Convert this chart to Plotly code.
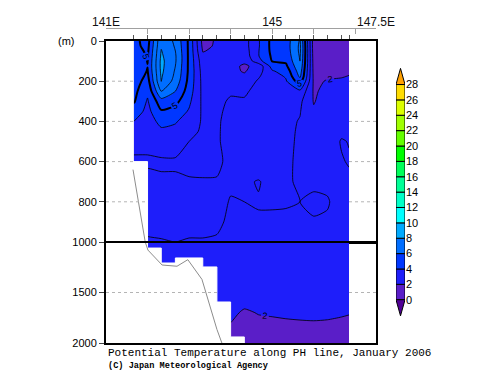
import plotly.graph_objects as go

# ---------------- data ----------------
lons = [141.67, 142.0, 142.33, 142.67, 143.0, 143.33, 143.67, 144.0, 144.33,
        144.67, 145.0, 145.33, 145.67, 146.0, 146.33, 146.67, 146.85]
depths = [0, 25, 50, 75, 100, 125, 150, 175, 200, 250, 300, 350, 400, 450, 500,
          600, 700, 800, 900, 1000, 1100, 1200, 1300, 1400, 1500, 1600, 1700,
          1800, 1900, 2000]

t_141_67 = [5.3, 5.3, 5.5, 5.7, 5.8, 5.8, 5.7, 5.6, 5.5, 5.3, 5.1, 4.6, 4.0, 3.5, 3.2, 2.9, 3.1, 3.1, 3.05, 2.95, 2.85, 2.75, 2.65, 2.55, 2.45, 2.3, 2.15, 2.05, 2.0, 1.95]
t_142_00 = [4.6, 4.7, 4.8, 4.9, 4.97, 5.02, 4.95, 4.8, 4.6, 4.2, 3.9, 3.7, 3.5, 3.3, 3.1, 2.95, 3.1, 3.15, 3.08, 2.97, 2.85, 2.75, 2.65, 2.55, 2.45, 2.3, 2.15, 2.05, 2.0, 1.95]
t_142_33 = [7.8, 7.9, 8.05, 8.15, 8.25, 8.25, 8.2, 8.1, 8.02, 7.0, 5.6, 4.9, 4.3, 3.8, 3.4, 2.9, 3.1, 3.2, 3.1, 2.98, 2.85, 2.75, 2.65, 2.55, 2.45, 2.3, 2.15, 2.05, 2.0, 1.95]
t_142_67 = [6.8, 6.9, 7.0, 7.1, 7.1, 7.0, 6.9, 6.8, 6.6, 6.0, 5.3, 4.6, 4.1, 3.7, 3.4, 2.9, 3.1, 3.2, 3.1, 3.0, 2.85, 2.75, 2.65, 2.55, 2.45, 2.3, 2.15, 2.05, 2.0, 1.95]
t_143_00 = [4.8, 4.8, 4.8, 4.8, 4.8, 4.8, 4.8, 4.75, 4.7, 4.5, 4.2, 3.9, 3.5, 3.2, 3.0, 2.85, 3.05, 3.15, 3.08, 2.98, 2.85, 2.75, 2.65, 2.55, 2.45, 2.3, 2.15, 2.05, 2.0, 1.95]
t_143_33 = [1.7, 1.8, 1.95, 2.2, 2.4, 2.5, 2.6, 2.65, 2.7, 2.75, 2.8, 2.85, 2.9, 2.9, 2.85, 2.8, 3.05, 3.12, 3.08, 2.98, 2.85, 2.75, 2.65, 2.55, 2.45, 2.3, 2.15, 2.05, 2.0, 1.95]
t_143_67 = [2.1, 2.1, 2.2, 2.3, 2.4, 2.5, 2.55, 2.6, 2.7, 2.75, 2.8, 2.85, 2.9, 2.9, 2.9, 2.85, 3.05, 3.1, 3.05, 2.97, 2.85, 2.75, 2.65, 2.55, 2.45, 2.3, 2.15, 2.05, 2.0, 1.95]
t_144_00 = [2.4, 2.4, 2.45, 2.5, 2.5, 2.3, 2.3, 2.4, 2.6, 2.9, 3.1, 3.2, 3.25, 3.3, 3.3, 3.2, 3.05, 2.98, 2.95, 2.9, 2.8, 2.7, 2.6, 2.5, 2.4, 2.25, 2.05, 2.0, 1.95, 1.9]
t_144_33 = [2.6, 2.6, 2.5, 2.4, 2.2, 1.85, 1.9, 2.2, 2.5, 2.85, 3.1, 3.2, 3.3, 3.3, 3.3, 3.2, 3.05, 3.0, 2.95, 2.9, 2.8, 2.7, 2.6, 2.5, 2.35, 2.05, 1.97, 1.93, 1.9, 1.87]
t_144_67 = [3.9, 3.9, 3.95, 3.95, 3.6, 2.3, 2.6, 2.9, 3.1, 3.3, 3.35, 3.35, 3.35, 3.3, 3.3, 3.2, 2.98, 3.02, 2.97, 2.9, 2.8, 2.7, 2.6, 2.5, 2.4, 2.25, 2.01, 1.96, 1.92, 1.88]
t_145_00 = [5.3, 5.3, 5.25, 5.15, 5.05, 4.4, 3.9, 3.6, 3.5, 3.4, 3.35, 3.35, 3.3, 3.3, 3.3, 3.2, 3.1, 3.02, 2.97, 2.9, 2.8, 2.7, 2.6, 2.5, 2.4, 2.25, 2.02, 1.97, 1.93, 1.89]
t_145_33 = [5.5, 5.5, 5.45, 5.35, 5.15, 4.8, 4.4, 4.1, 3.9, 3.5, 3.3, 3.25, 3.2, 3.2, 3.15, 3.1, 3.05, 3.02, 2.96, 2.9, 2.8, 2.7, 2.6, 2.5, 2.4, 2.25, 2.03, 1.98, 1.94, 1.9]
t_145_67 = [7.1, 7.2, 7.2, 7.1, 7.0, 6.8, 6.5, 6.2, 5.5, 3.8, 3.2, 3.05, 2.95, 2.9, 2.9, 2.9, 2.95, 3.0, 2.97, 2.9, 2.8, 2.7, 2.6, 2.5, 2.4, 2.25, 2.04, 1.985, 1.95, 1.9]
t_146_00 = [1.5, 1.5, 1.55, 1.6, 1.65, 1.7, 1.75, 1.8, 1.85, 1.9, 1.95, 2.1, 2.3, 2.5, 2.65, 2.85, 2.95, 3.05, 2.98, 2.9, 2.8, 2.7, 2.6, 2.5, 2.4, 2.25, 2.04, 1.99, 1.95, 1.9]
t_146_33 = [1.3, 1.35, 1.4, 1.5, 1.6, 1.7, 1.8, 1.9, 2.05, 2.2, 2.35, 2.5, 2.65, 2.75, 2.85, 2.95, 2.95, 3.02, 2.97, 2.9, 2.8, 2.7, 2.6, 2.5, 2.4, 2.25, 2.035, 1.985, 1.95, 1.9]
t_146_67 = [1.4, 1.4, 1.45, 1.5, 1.6, 1.7, 1.8, 1.95, 2.1, 2.3, 2.5, 2.7, 2.85, 2.95, 3.02, 2.98, 2.9, 2.9, 2.88, 2.85, 2.78, 2.7, 2.6, 2.5, 2.4, 2.25, 2.02, 1.973, 1.94, 1.9]
t_146_85 = [1.5, 1.5, 1.55, 1.6, 1.7, 1.8, 1.9, 2.02, 2.15, 2.35, 2.55, 2.75, 2.9, 2.97, 2.99, 3.02, 2.95, 2.9, 2.88, 2.85, 2.78, 2.7, 2.6, 2.5, 2.4, 2.25, 2.01, 1.965, 1.93, 1.9]

profiles = [t_141_67, t_142_00, t_142_33, t_142_67, t_143_00, t_143_33, t_143_67,
            t_144_00, t_144_33, t_144_67, t_145_00, t_145_33, t_145_67, t_146_00,
            t_146_33, t_146_67, t_146_85]
temperature = [[p[i] for p in profiles] for i in range(len(depths))]

# sea-floor (masked area) as steps, and bottom topography line
step_left = [141.67, 142.0, 142.33, 142.67, 143.33, 143.67, 144.0]
step_right = [142.0, 142.33, 142.67, 143.33, 143.67, 144.0, 144.33]
step_bottom = [600, 1060, 1208, 1158, 1247, 1594, 1940]
topo_lon = [141.65, 141.9, 142.01, 142.35, 142.71, 142.97, 143.31, 143.67, 143.79]
topo_depth = [640, 941, 1080, 1228, 1240, 1175, 1370, 1865, 2000]

levels = [0, 2, 4, 6, 8, 10, 12, 14, 16, 18, 20, 22, 24, 26, 28]
band_colors = ["#500096", "#5A1EC8", "#1E1EFA", "#0037FF", "#006EFF", "#00AAFF",
               "#00FFFF", "#00FFC8", "#00FF96", "#00FF5A", "#00FF00", "#64FF00",
               "#A0FF00", "#DCFF00", "#FFDC00", "#FFA000"]

lon_ticks = [141, 142, 143, 144, 145, 146, 147, 147.5]
lon_labels = ["141E", "", "", "", "145", "", "", "147.5E"]
depth_ticks_upper = [0, 200, 400, 600, 800, 1000]
depth_ticks_lower = [1500, 2000]
grid_depths_upper = [200, 400, 600, 800]
grid_depths_lower = [1500]
DEPTH_BREAK = 1000

# ---------------- figure ----------------
X0, X1 = 141.0, 147.5
nb = len(band_colors)
colorscale = []
for k, c in enumerate(band_colors):
    lo = 0 if k == 0 else (2 * k - 1) / (2 * (nb - 1))
    hi = 1 if k == nb - 1 else (2 * k + 1) / (2 * (nb - 1))
    colorscale += [[lo, c], [hi, c]]

fig = go.Figure()

panels = (
    ("x", "y", [i for i, d in enumerate(depths) if d <= DEPTH_BREAK]),
    ("x2", "y2", [i for i, d in enumerate(depths) if d >= DEPTH_BREAK]),
)
for xa, ya, rows in panels:
    zz = [temperature[i] for i in rows]
    dd = [depths[i] for i in rows]
    fig.add_trace(go.Contour(
        x=lons, y=dd, z=zz, xaxis=xa, yaxis=ya,
        colorscale=colorscale, showscale=False, hoverinfo="skip",
        contours=dict(start=levels[0], end=levels[-1], size=2, coloring="fill", showlines=False),
        line=dict(width=0)))
    for start, end, width, lab in ((3, 4, 0.8, False), (6, 27, 0.8, False),
                                   (2, 2, 0.8, True), (5, 5, 2.0, True)):
        fig.add_trace(go.Contour(
            x=lons, y=dd, z=zz, xaxis=xa, yaxis=ya,
            showscale=False, hoverinfo="skip",
            contours=dict(start=start, end=end, size=1, coloring="none",
                          showlabels=lab,
                          labelfont=dict(size=9, color="black", family="Liberation Sans")),
            line=dict(color="black", width=width, smoothing=0.6)))

    # masked sea floor (from the left edge of the axis)
    px, py = [X0, X0], [depths[-1], step_bottom[0]]
    for l, r, d in zip(step_left, step_right, step_bottom):
        px += [l, r]
        py += [d, d]
    px += [step_right[-1], X0]
    py += [depths[-1], depths[-1]]
    fig.add_trace(go.Scatter(x=px, y=py, xaxis=xa, yaxis=ya, mode="lines",
                             fill="toself", fillcolor="white",
                             line=dict(color="white", width=1),
                             hoverinfo="skip", showlegend=False))
    fig.add_trace(go.Scatter(x=topo_lon, y=topo_depth, xaxis=xa, yaxis=ya,
                             mode="lines", line=dict(color="#8c8c8c", width=1),
                             hoverinfo="skip", showlegend=False))

# invisible trace so the upper longitude axis is drawn
fig.add_trace(go.Scatter(x=lons, y=[0] * len(lons), xaxis="x3", yaxis="y",
                         mode="markers", marker=dict(opacity=0), hoverinfo="skip",
                         showlegend=False))

# colour bar built from the level list
fig.add_trace(go.Bar(x=[0] * (len(levels) - 1), y=[2] * (len(levels) - 1),
                     base=levels[:-1], width=1, xaxis="x4", yaxis="y4",
                     marker=dict(color=band_colors[1:-1], line=dict(color="black", width=1)),
                     hoverinfo="skip", showlegend=False))
arrow = 2.1
fig.add_trace(go.Scatter(x=[-0.5, 0.5, 0, -0.5],
                         y=[levels[-1], levels[-1], levels[-1] + arrow, levels[-1]],
                         xaxis="x4", yaxis="y4", mode="lines", fill="toself",
                         fillcolor=band_colors[-1], line=dict(color="black", width=1),
                         hoverinfo="skip", showlegend=False))
fig.add_trace(go.Scatter(x=[-0.5, 0.5, 0, -0.5],
                         y=[levels[0], levels[0], levels[0] - arrow, levels[0]],
                         xaxis="x4", yaxis="y4", mode="lines", fill="toself",
                         fillcolor=band_colors[0], line=dict(color="black", width=1),
                         hoverinfo="skip", showlegend=False))

# dotted grid lines only where no data is shaded
def white_spans(d):
    spans = [[X0, lons[0]]]
    for l, r, b in zip(step_left, step_right, step_bottom):
        if b < d:
            if abs(spans[-1][1] - l) < 1e-6:
                spans[-1][1] = r
            else:
                spans.append([l, r])
    spans.append([lons[-1], X1])
    return spans

shapes = []
for yref, gds in (("y", grid_depths_upper), ("y2", grid_depths_lower)):
    for d in gds:
        for a, b in white_spans(d):
            shapes.append(dict(type="line", xref="x", yref=yref, x0=a, x1=b, y0=d, y1=d,
                               line=dict(color="#b4b4b4", width=1, dash="dot"),
                               layer="above"))

# the page body has an 8 px default margin: the figure is sized to fill the rest
OFF = 8
W_PLOT = 354.0
H_PLOT = 315.0
main_dom = [0, 270 / W_PLOT]
split = 101 / H_PLOT
top = 302 / H_PLOT
tickfont = dict(family="Liberation Sans", size=11, color="black")

# heavy line where the depth scale changes (boundary between the two panels)
shapes.append(dict(type="line", xref="paper", yref="paper", x0=main_dom[0], x1=main_dom[1],
                   y0=split, y1=split, line=dict(color="black", width=2), layer="above"))

fig.update_layout(
    template="none",
    width=500 - OFF, height=387 - OFF,
    margin=dict(l=106 - OFF, r=40, t=28 - OFF, b=44, autoexpand=False),
    paper_bgcolor="white", plot_bgcolor="white",
    showlegend=False, shapes=shapes,
    font=dict(family="Liberation Sans", size=11, color="black"),
    xaxis=dict(domain=main_dom, range=[X0, X1], anchor="y", side="top",
               showline=True, linecolor="black", linewidth=2, mirror=True,
               ticks="outside", tickvals=lons, ticklen=4, tickcolor="#555",
               showticklabels=False, showgrid=False, zeroline=False, automargin=False),
    xaxis2=dict(domain=main_dom, range=[X0, X1], anchor="y2", matches="x",
                showline=True, linecolor="black", linewidth=2, mirror=False,
                ticks="", showticklabels=False, showgrid=False, zeroline=False,
                automargin=False),
    xaxis3=dict(overlaying="x", range=[X0, X1], anchor="free", position=1, side="top",
                showline=True, linecolor="#a0a0a0", linewidth=1,
                ticks="inside", ticklen=5, tickcolor="#a0a0a0",
                tickmode="array", tickvals=lon_ticks, ticktext=lon_labels,
                ticklabelstandoff=-3,
                tickfont=dict(family="Liberation Sans", size=12, color="#111"),
                showgrid=False, zeroline=False, automargin=False),
    yaxis=dict(domain=[split, top], range=[DEPTH_BREAK, 0], anchor="x",
               showline=True, linecolor="black", linewidth=2, mirror=True,
               ticks="outside", ticklen=5, tickvals=depth_ticks_upper,
               tickfont=tickfont, showgrid=False, zeroline=False, automargin=False),
    yaxis2=dict(domain=[0, split], range=[depths[-1], DEPTH_BREAK], anchor="x2",
                showline=True, linecolor="black", linewidth=2, mirror=True,
                ticks="outside", ticklen=5, tickvals=depth_ticks_lower,
                tickfont=tickfont, showgrid=False, zeroline=False, automargin=False),
    xaxis4=dict(domain=[290 / W_PLOT, 299 / W_PLOT], range=[-0.5, 0.5], anchor="y4",
                visible=False, automargin=False),
    yaxis4=dict(domain=[26 / H_PLOT, 275 / H_PLOT], range=[-2.25, 30.15], anchor="x4",
                side="right", tickmode="array", tickvals=levels, ticks="",
                showline=False, showgrid=False, zeroline=False, tickfont=tickfont,
                automargin=False),
    annotations=[
        dict(text="(m)", xref="paper", yref="paper", x=-40 / W_PLOT, y=top,
             xanchor="center", yanchor="middle", showarrow=False,
             font=dict(family="Liberation Sans", size=11, color="black")),
        dict(text="Potential Temperature along PH line, January 2006",
             xref="paper", yref="paper", x=0, y=-10 / H_PLOT, xanchor="left",
             yanchor="middle", showarrow=False,
             font=dict(family="Liberation Mono", size=11, color="black")),
        dict(text="<b>(C) Japan Meteorological Agency</b>",
             xref="paper", yref="paper", x=0, y=-23 / H_PLOT, xanchor="left",
             yanchor="middle", showarrow=False,
             font=dict(family="Liberation Mono", size=8.6, color="black")),
    ],
)

fig.write_html("out.html")
